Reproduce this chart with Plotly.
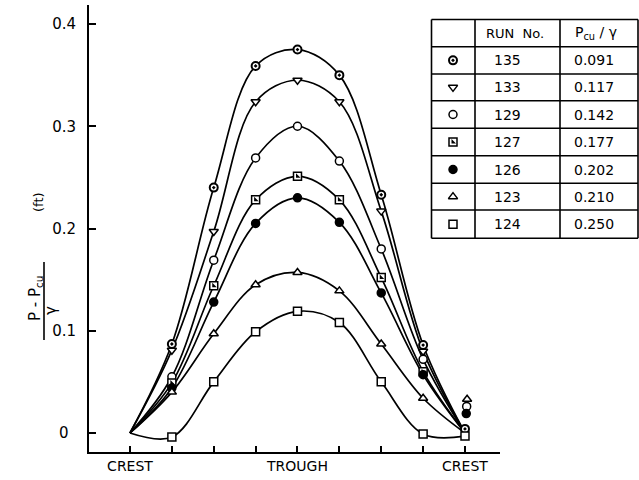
import plotly.graph_objects as go

# ---- data -------------------------------------------------------------
positions = [0, 1, 2, 3, 4, 5, 6, 7, 8]
x_tick_labels = ["CREST", "", "", "", "TROUGH", "", "", "", "CREST"]
y_ticks = [0, 0.1, 0.2, 0.3, 0.4]
y_tick_labels = ["0\u2002", "0.1", "0.2", "0.3", "0.4"]

run_numbers = ["135", "133", "129", "127", "126", "123", "124"]
pcu_over_gamma = ["0.091", "0.117", "0.142", "0.177", "0.202", "0.210", "0.250"]

# measured (P - Pcu)/gamma in ft at stations 1..7 between crest and trough
stations = [1, 2, 3, 4, 5, 6, 7]
run135 = [0.087, 0.240, 0.359, 0.375, 0.350, 0.233, 0.086]
run133 = [0.081, 0.197, 0.324, 0.345, 0.324, 0.217, 0.080]
run129 = [0.055, 0.169, 0.269, 0.300, 0.266, 0.180, 0.072]
run127 = [0.049, 0.144, 0.228, 0.251, 0.228, 0.152, 0.060]
run126 = [0.044, 0.128, 0.205, 0.230, 0.206, 0.137, 0.057]
run123 = [0.040, 0.097, 0.145, 0.157, 0.139, 0.087, 0.034]
run124 = [-0.004, 0.050, 0.099, 0.119, 0.108, 0.050, -0.001]
run_values = [run135, run133, run129, run127, run126, run123, run124]

# readings taken at the downstream crest
crest_end_x = [8.0, None, 8.04, None, 8.03, 8.05, 8.0]
crest_end_y = [0.004, None, 0.026, None, 0.019, 0.033, -0.003]

# faired curves start and finish at the crests
curve_start = [0.0, 0.0, 0.0, 0.0, 0.0, 0.0, 0.0]
curve_end = [0.0, 0.0, 0.0, 0.0, 0.0, 0.0, -0.003]

# ---- styling ----------------------------------------------------------
FONT = "DejaVu Sans"
INK = "black"
marker_styles = [
    dict(symbol="circle-dot", color="white", line=dict(color=INK, width=2)),
    dict(symbol="triangle-down", color="white", line=dict(color=INK, width=1.5)),
    dict(symbol="circle", color="white", line=dict(color=INK, width=1.5)),
    dict(symbol="square", color="white", line=dict(color=INK, width=1.5)),
    dict(symbol="circle", color=INK, line=dict(color=INK, width=1.5)),
    dict(symbol="triangle-up", color="white", line=dict(color=INK, width=1.5)),
    dict(symbol="square", color="white", line=dict(color=INK, width=1.5)),
]
MSIZE = 8
HALF_FILL_RUN = 3  # run 127 uses a half-shaded square

# figure geometry (pixels)
W, H = 639, 480
ML, MR, MT, MB = 89, 0, 5, 28
PLOT_RIGHT = 500


def px_x(px):
    return (px - ML) / (W - ML - MR)


def px_y(py):
    return (H - MB - py) / (H - MT - MB)


def label(text, x, y, size, angle=0):
    return dict(text=text, x=px_x(x), y=px_y(y), xref="paper", yref="paper",
                xanchor="center", yanchor="middle", showarrow=False, textangle=angle,
                font=dict(family=FONT, size=size, color=INK))


fig = go.Figure()

for i, vals in enumerate(run_values):
    xs = [positions[0]] + stations + [positions[-1]]
    ys = [curve_start[i]] + vals + [curve_end[i]]
    fig.add_trace(go.Scatter(x=xs, y=ys, mode="lines",
                             line=dict(color=INK, width=1.7, shape="spline", smoothing=1.0),
                             hoverinfo="skip", showlegend=False))

for i, vals in enumerate(run_values):
    mx = list(stations)
    my = list(vals)
    if crest_end_x[i] is not None:
        mx.append(crest_end_x[i])
        my.append(crest_end_y[i])
    fig.add_trace(go.Scatter(x=mx, y=my, mode="markers",
                             marker=dict(size=MSIZE, **marker_styles[i]),
                             name=run_numbers[i], showlegend=False, cliponaxis=False))
    if i == HALF_FILL_RUN:
        fig.add_trace(go.Scatter(x=mx, y=my, mode="markers",
                                 marker=dict(size=MSIZE / 1.6, symbol="triangle-sw", color=INK,
                                             line=dict(width=0)),
                                 hoverinfo="skip", showlegend=False, cliponaxis=False))

# ---- key table (drawn in a pixel-scaled overlay) ----------------------
tbl_left, tbl_c1, tbl_c2, tbl_right = 431.5, 475, 560, 638
row_lines = [19.5, 46.7, 74, 100.7, 128.3, 155.7, 183.3, 210, 238.3]
row_centres = [(row_lines[k] + row_lines[k + 1]) / 2 for k in range(len(row_lines) - 1)]
sym_x = 453

shapes = []
for yl in row_lines:
    shapes.append(dict(type="line", xref="paper", yref="paper",
                       x0=px_x(tbl_left), x1=px_x(tbl_right), y0=px_y(yl), y1=px_y(yl),
                       line=dict(color=INK, width=1.6)))
for xl in [tbl_left, tbl_c1, tbl_c2, tbl_right]:
    shapes.append(dict(type="line", xref="paper", yref="paper",
                       x0=px_x(xl), x1=px_x(xl), y0=px_y(row_lines[0]), y1=px_y(row_lines[-1]),
                       line=dict(color=INK, width=1.6)))

annotations = [
    label("RUN  No.", 515, row_centres[0], 13),
    label("P<sub>cu</sub> / \u03b3", 596, row_centres[0], 14),
]
for k in range(len(run_numbers)):
    annotations.append(label(run_numbers[k], 507, row_centres[k + 1], 14))
    annotations.append(label(pcu_over_gamma[k], 594, row_centres[k + 1], 14))
    fig.add_trace(go.Scatter(x=[sym_x], y=[row_centres[k + 1]], xaxis="x2", yaxis="y2",
                             mode="markers", marker=dict(size=MSIZE, **marker_styles[k]),
                             hoverinfo="skip", showlegend=False))
    if k == HALF_FILL_RUN:
        fig.add_trace(go.Scatter(x=[sym_x], y=[row_centres[k + 1]], xaxis="x2", yaxis="y2",
                                 mode="markers",
                                 marker=dict(size=MSIZE / 1.6, symbol="triangle-sw", color=INK,
                                             line=dict(width=0)),
                                 hoverinfo="skip", showlegend=False))

# ---- y-axis title: (P - Pcu) / gamma   (ft) ---------------------------
annotations.append(label("P - P<sub>cu</sub>", 35, 299, 15, -90))
shapes.append(dict(type="line", xref="paper", yref="paper", x0=px_x(44), x1=px_x(44),
                   y0=px_y(262), y1=px_y(340), line=dict(color=INK, width=1.6)))
annotations.append(label("\u03b3", 51, 311, 15, -90))
annotations.append(label("(ft)", 38, 202, 13, -90))

x_dom_right = px_x(PLOT_RIGHT)
fig.update_layout(
    width=W, height=H,
    margin=dict(l=ML, r=MR, t=MT, b=MB, pad=0),
    paper_bgcolor="white", plot_bgcolor="rgba(0,0,0,0)",
    shapes=shapes, annotations=annotations,
    xaxis=dict(domain=[0, x_dom_right], range=[-0.979, 8.836], tickvals=positions,
               ticktext=x_tick_labels, ticks="inside", ticklen=6, tickwidth=1.5,
               tickcolor=INK, showline=True, linecolor=INK, linewidth=2,
               showgrid=False, zeroline=False,
               tickfont=dict(family=FONT, size=14, color=INK)),
    yaxis=dict(range=[-0.0186, 0.4186], tickvals=y_ticks, ticktext=y_tick_labels,
               ticks="inside", ticklen=7, tickwidth=1.5, tickcolor=INK,
               showline=True, linecolor=INK, linewidth=2, showgrid=False, zeroline=False,
               ticklabelstandoff=8,
               tickfont=dict(family=FONT, size=15, color=INK)),
    xaxis2=dict(domain=[0, 1], range=[ML, W - MR], visible=False, anchor="y2"),
    yaxis2=dict(domain=[0, 1], range=[H - MB, MT], visible=False, anchor="x2"),
)

fig.write_html("out.html")
